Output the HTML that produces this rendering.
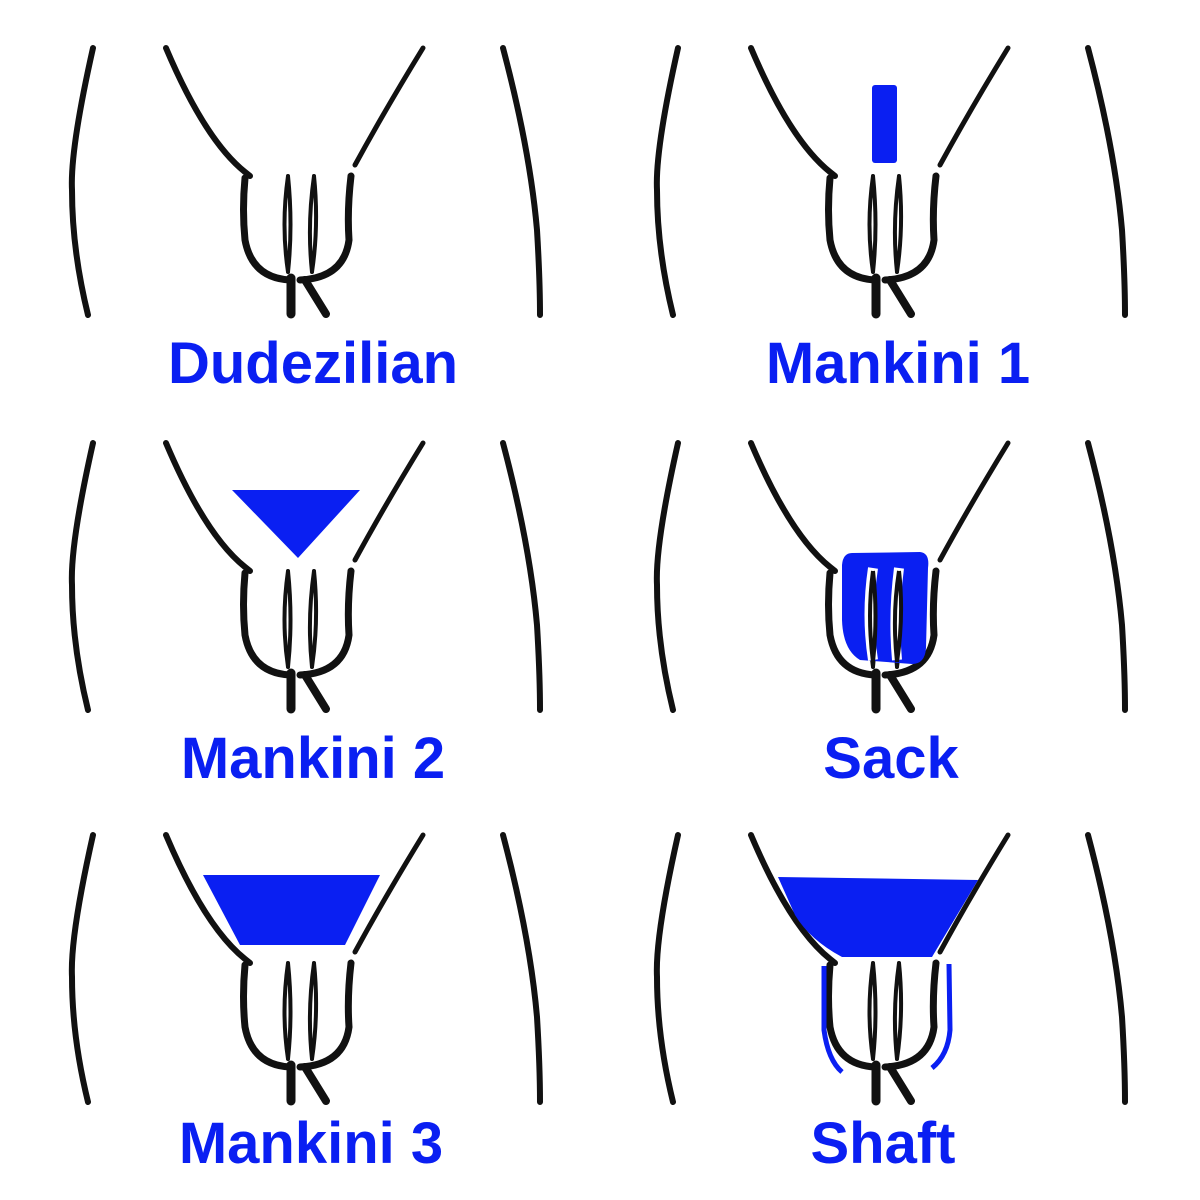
<!DOCTYPE html>
<html><head><meta charset="utf-8"><style>
html,body{margin:0;padding:0;background:#fff;width:1200px;height:1200px;overflow:hidden}
svg{display:block}
text{font-family:"Liberation Sans",sans-serif;font-weight:bold;font-size:58px;fill:#0a1ff2}
</style></head><body>
<svg width="1200" height="1200" viewBox="0 0 1200 1200">
<defs>
<g id="fig" fill="none" stroke="#111" stroke-linecap="round">
<path d="M93 48 Q70 150 72 190 Q72 250 88 315" stroke-width="6"/>
<path d="M503 48 Q530 150 537 230 Q540 280 540 315" stroke-width="6"/>
<path d="M166 48 Q205 140 245 172 L250 176" stroke-width="6"/>
<path d="M423 48 Q385 110 355 165" stroke-width="5"/>
<path d="M245 178 Q242 210 245 240 Q252 278 290 280" stroke-width="7"/>
<path d="M351 176 Q347 210 349 240 Q344 278 300 280" stroke-width="7"/>
<path d="M288 176 Q281 225 288 272 M288 176 Q293 225 288 272" stroke-width="4"/>
<path d="M314 176 Q307 225 312 272 M314 176 Q319 225 312 272" stroke-width="4"/>
<path d="M291 278 L291 314" stroke-width="9"/>
<path d="M305 280 L326 314" stroke-width="8"/>
</g>
</defs>
<use href="#fig"/>
<use href="#fig" transform="translate(585,0)"/>
<use href="#fig" transform="translate(0,395)"/>
<use href="#fig" transform="translate(585,395)"/>
<use href="#fig" transform="translate(0,787)"/>
<use href="#fig" transform="translate(585,787)"/>
<rect x="872" y="85" width="25" height="78" rx="3" fill="#0a1ff2"/>
<polygon points="232,490 360,490 298,558" fill="#0a1ff2"/>
<path d="M852 553 L920 552 Q930 553 928 568 L926 648 Q925 664 912 664 L860 660 Q843 650 842 620 L842 565 Q843 553 852 553 Z" fill="#0a1ff2"/>
<path d="M873 568 Q866 615 873 660 M899 568 Q893 615 897 660" fill="none" stroke="#fff" stroke-width="10"/>
<path d="M873 571 Q867 615 873 662 M873 571 Q878 615 873 662 M899 571 Q892 615 897 662 M899 571 Q904 615 897 662" fill="none" stroke="#111" stroke-width="4"/>
<polygon points="203,875 380,875 345,945 240,945" fill="#0a1ff2"/>
<path d="M778 877 L978 880 L932 957 L842 957 Q810 940 795 915 Z" fill="#0a1ff2"/>
<path d="M824 966 L824 1030 Q828 1060 842 1072 M949 964 L950 1030 Q948 1055 932 1068" fill="none" stroke="#0a1ff2" stroke-width="5"/>
<text x="313" y="383" text-anchor="middle">Dudezilian</text>
<text x="898" y="383" text-anchor="middle">Mankini 1</text>
<text x="313" y="778" text-anchor="middle">Mankini 2</text>
<text x="891" y="778" text-anchor="middle">Sack</text>
<text x="311" y="1163" text-anchor="middle">Mankini 3</text>
<text x="883" y="1163" text-anchor="middle">Shaft</text>
</svg>
</body></html>
